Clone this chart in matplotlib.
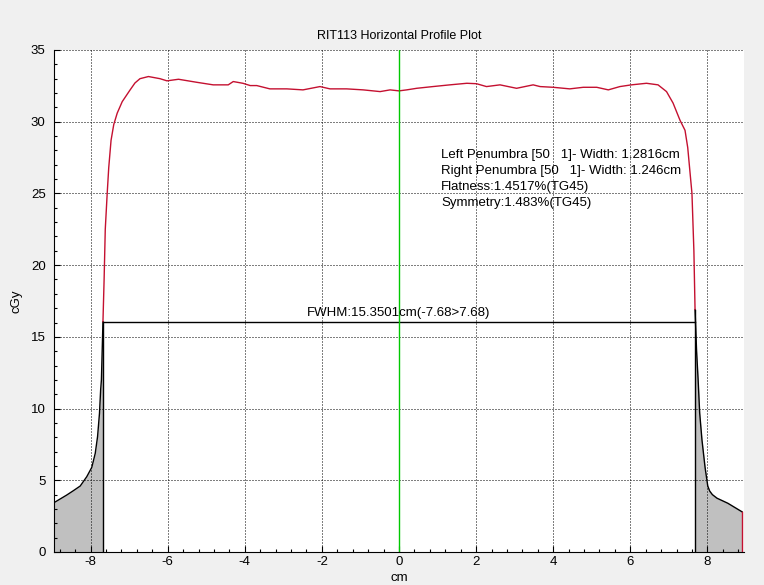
import numpy as np
import matplotlib
matplotlib.use("Agg")
import matplotlib.pyplot as plt
from matplotlib.ticker import MultipleLocator

# profile (cm, cGy)
x_cm = [-8.95, -8.8, -8.62, -8.45, -8.27, -8.1, -7.97, -7.88, -7.82, -7.77, -7.74, -7.72,
        -7.68, -7.65, -7.62, -7.57, -7.53, -7.47, -7.4, -7.31, -7.18, -6.98, -6.85, -6.72,
        -6.5, -6.2, -6.02, -5.72, -5.25, -4.82, -4.43, -4.3, -4.05, -3.86, -3.69, -3.35,
        -2.91, -2.49, -2.05, -1.79, -1.36, -0.93, -0.49, -0.23, 0.0, 0.2, 0.46, 0.88,
        1.32, 1.76, 2.01, 2.27, 2.62, 3.05, 3.48, 3.66, 4.0, 4.43, 4.78, 5.13, 5.43, 5.73,
        6.03, 6.42, 6.72, 6.94, 7.11, 7.29, 7.42, 7.49, 7.6, 7.65, 7.68, 7.72, 7.76, 7.8,
        7.86, 7.94, 8.01, 8.06, 8.13, 8.25, 8.53, 8.9]
dose = [3.44, 3.68, 3.97, 4.27, 4.6, 5.25, 5.9, 6.88, 8.04, 9.67, 11.3, 12.0,
        16.05, 19.0, 22.5, 25.0, 26.8, 28.7, 29.8, 30.6, 31.4, 32.2, 32.7, 33.0,
        33.15, 33.0, 32.85, 32.96, 32.75, 32.57, 32.57, 32.8, 32.68, 32.52, 32.52, 32.29,
        32.29, 32.22, 32.45, 32.29, 32.29, 32.22, 32.1, 32.22, 32.15, 32.22, 32.33, 32.45,
        32.57, 32.68, 32.65, 32.45, 32.57, 32.33, 32.57, 32.45, 32.4, 32.29, 32.4, 32.4, 32.22, 32.45,
        32.57, 32.68, 32.57, 32.1, 31.3, 30.1, 29.4, 28.2, 25.0, 21.0, 16.9, 14.0, 12.0, 9.7,
        7.8, 5.9, 4.6, 4.25, 4.0, 3.75, 3.4, 2.8]

fwhm_left = -7.68
fwhm_right = 7.68
fwhm_level = 16.05
info_lines = ["Left Penumbra [50   1]- Width: 1.2816cm",
              "Right Penumbra [50   1]- Width: 1.246cm",
              "Flatness:1.4517%(TG45)",
              "Symmetry:1.483%(TG45)"]

plt.rcParams["font.family"] = ["Liberation Sans", "DejaVu Sans"]
plt.rcParams["axes.unicode_minus"] = False

x = np.array(x_cm)
y = np.array(dose)

fig = plt.figure(figsize=(7.64, 5.85), dpi=100, facecolor="#f0f0f0")
ax = fig.add_axes([54 / 764, 33 / 585, 690 / 764, 502 / 585])
ax.set_facecolor("white")

left = x <= fwhm_left
right = x >= fwhm_right
mid = (x >= fwhm_left) & (x <= fwhm_right)

ax.fill_between(x[left], 0, y[left], color="#c0c0c0", lw=0)
ax.fill_between(x[right], 0, y[right], color="#c0c0c0", lw=0)
ax.plot(x[left], y[left], color="black", lw=1)
ax.plot(x[right], y[right], color="black", lw=1)
ax.plot(x[mid], y[mid], color="#c41030", lw=1)
ax.plot([x[right][-1], x[right][-1]], [0, y[right][-1]], color="#c41030", lw=1)

ax.plot([fwhm_left, fwhm_left], [0, fwhm_level], color="black", lw=1)
ax.plot([fwhm_right, fwhm_right], [0, y[x == fwhm_right][0]], color="black", lw=1)
ax.plot([fwhm_left, fwhm_right], [fwhm_level, fwhm_level], color="black", lw=1)
ax.axvline(0, color="#00c800", lw=1)

ax.text(0, fwhm_level + 0.2, "FWHM:15.3501cm(-7.68>7.68)", ha="center", va="bottom", fontsize=9.5)
for i, line in enumerate(info_lines):
    ax.text(1.09, 27.7 - i * 1.12, line, ha="left", va="center", fontsize=9.5)

ax.set_xlim(-8.95, 8.95)
ax.set_ylim(0, 35)
ax.xaxis.set_major_locator(MultipleLocator(2))
ax.xaxis.set_minor_locator(MultipleLocator(0.4))
ax.yaxis.set_major_locator(MultipleLocator(5))
ax.yaxis.set_minor_locator(MultipleLocator(1))
ax.tick_params(which="both", direction="in", top=False, right=False, labelsize=9.5)
ax.tick_params(which="major", length=4, width=0.8)
ax.tick_params(which="minor", length=2.5, width=0.8)
ax.tick_params(axis="y", pad=6)
ax.tick_params(axis="x", pad=3)
ax.grid(True, which="major", color="black", linestyle=(0, (1, 2)), lw=0.72)
for s in ["top", "right"]:
    ax.spines[s].set_visible(False)
for s in ["left", "bottom"]:
    ax.spines[s].set_linewidth(0.8)

ax.set_title("RIT113 Horizontal Profile Plot", fontsize=9, pad=8)
ax.set_xlabel("cm", fontsize=9.5, labelpad=3)
ax.set_ylabel("cGy", fontsize=9.5, labelpad=6)

fig.savefig("out.png", dpi=100, facecolor=fig.get_facecolor())
